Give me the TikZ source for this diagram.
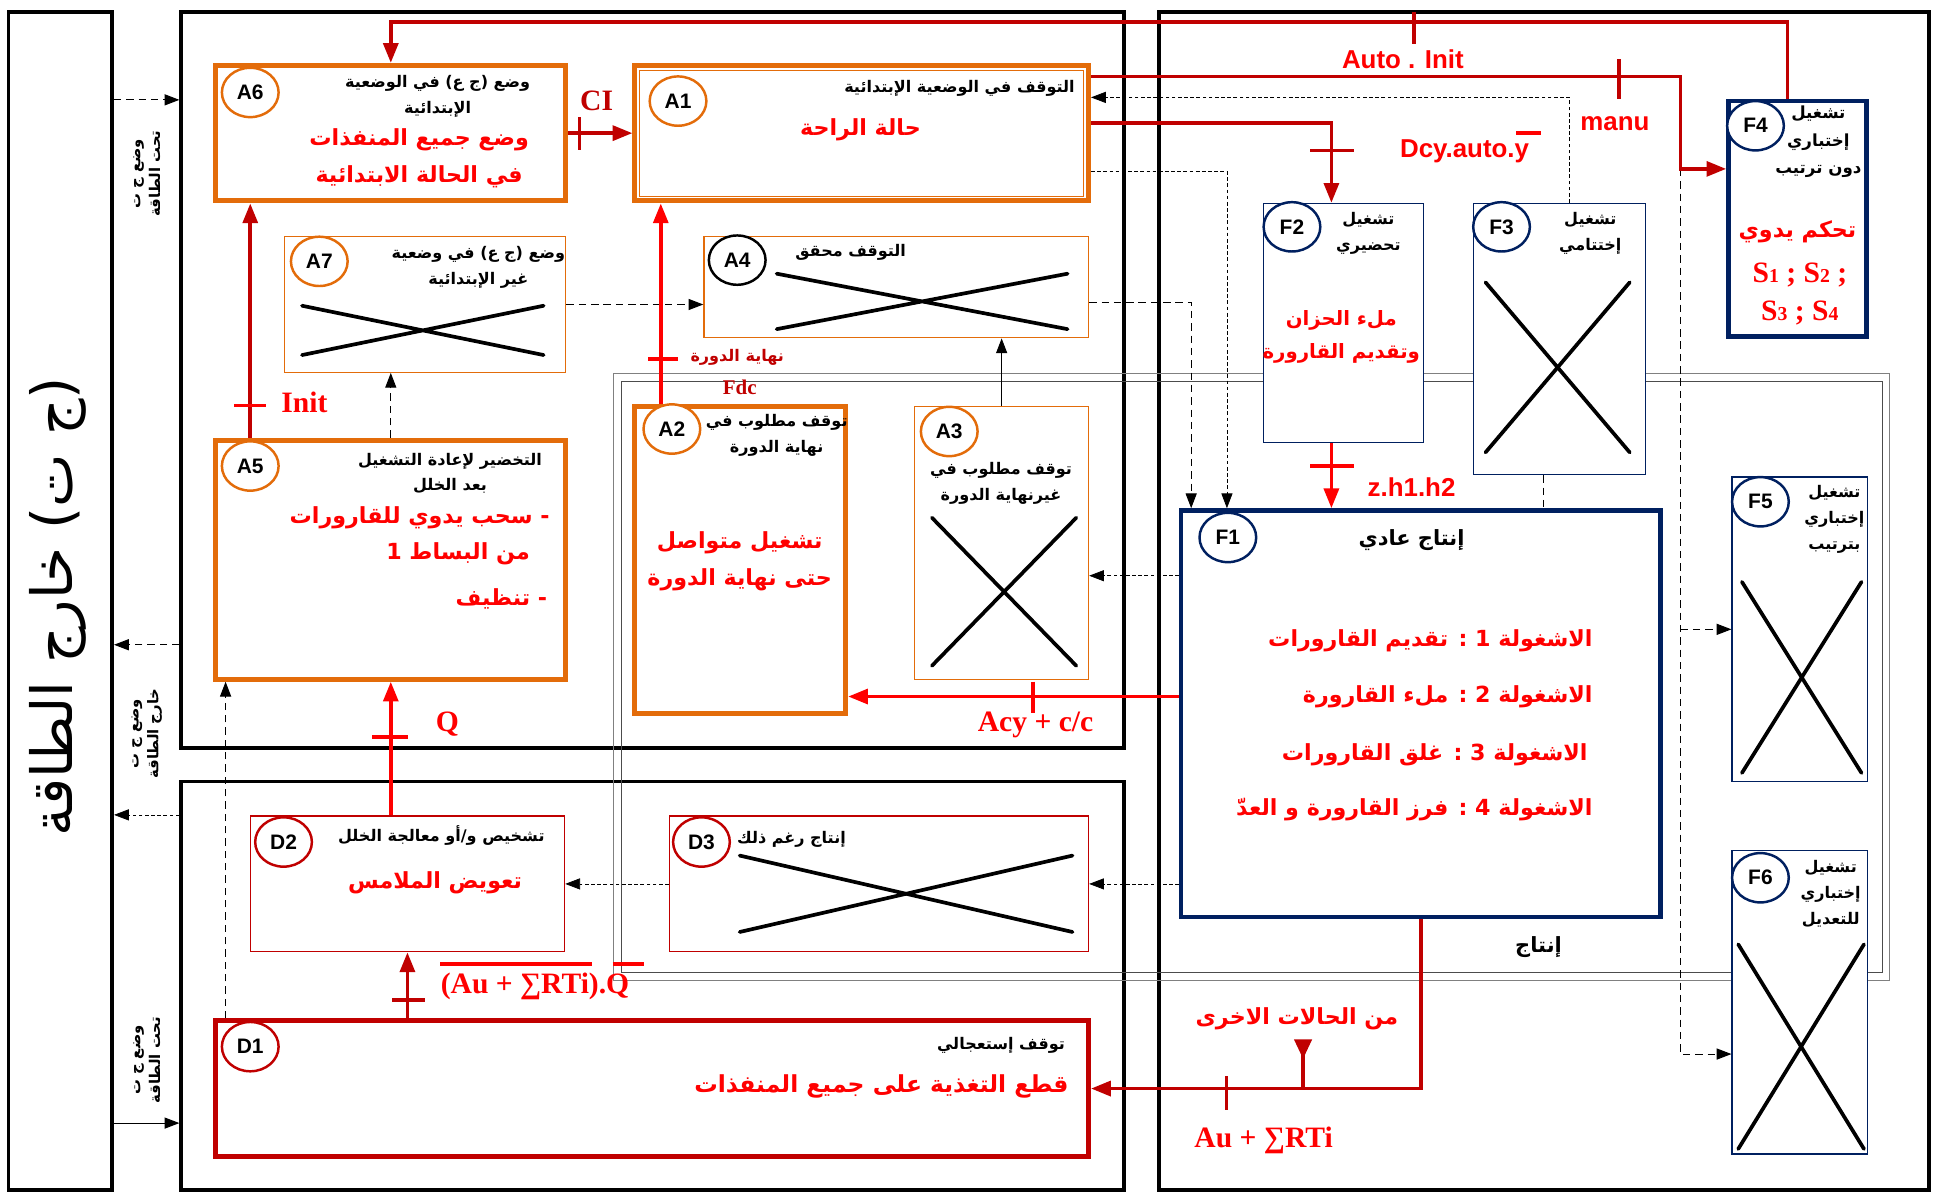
\documentclass[tikz,border=0pt]{standalone}
\usepackage{fontspec}
\setmainfont{Liberation Serif}
\setsansfont{Liberation Sans}
\newfontfamily\arabicfont[Script=Arabic]{DejaVu Sans}
\TeXXeTstate=1
\usetikzlibrary{arrows.meta,calc,positioning,shapes.geometric}
\definecolor{aorange}{HTML}{E36C0A}
\definecolor{navy}{HTML}{002060}
\definecolor{dred}{HTML}{C00000}
\definecolor{bred}{HTML}{FF0000}
\newcommand{\AR}[1]{{\arabicfont\beginR #1\endR}}

\begin{document}
\begin{tikzpicture}[x=1pt,y=-1pt,>={Triangle[length=16pt,width=12pt]},
  gframe/.style={draw,line width=3pt,inner sep=0pt},
  abox/.style={draw=aorange,line width=1pt,fill=white,inner sep=0pt},
  aboxk/.style={abox,line width=4pt},
  fbox/.style={draw=navy,line width=1pt,fill=white,inner sep=0pt},
  fboxk/.style={fbox,line width=3.5pt},
  dbox/.style={draw=dred,line width=1pt,fill=white,inner sep=0pt},
  dboxk/.style={dbox,line width=4pt},
  tagc/.style={ellipse,draw,line width=2pt,minimum width=46pt,minimum height=40pt,inner sep=0pt,fill=white,font=\fontsize{17}{17}\sffamily\bfseries},
  atag/.style={tagc,draw=aorange},
  ftag/.style={tagc,draw=navy},
  dtag/.style={tagc,draw=dred},
  ttl/.style={font=\fontsize{13}{21}\selectfont\bfseries,align=center,inner sep=0pt},
  vttl/.style={ttl,rotate=90,font=\fontsize{12}{16}\selectfont\bfseries},
  big/.style={text=bred,font=\fontsize{18}{30}\selectfont\bfseries,align=center,inner sep=0pt},
  xmark/.style={line width=3pt,line cap=round},
  rline/.style={draw=dred,line width=3pt},
  bline/.style={draw=bred,line width=3pt},
  kdash/.style={dash pattern=on 6pt off 4pt,line width=0.8pt,-{Triangle[length=12pt,width=9pt]}},
  kdot/.style={dash pattern=on 3pt off 2pt,line width=0.6pt,-{Triangle[length=12pt,width=9pt]}},
  lbl/.style={font=\fontsize{21}{21}\sffamily\bfseries,text=bred,inner sep=0pt},
  slbl/.style={font=\fontsize{24}{24}\selectfont\bfseries,text=bred,inner sep=0pt}]
\useasboundingbox (0,0) rectangle (1568,967);

% frames
\node[gframe,minimum width=84pt,minimum height=955pt] (FL) at (49,487.5) {};
\node[gframe,minimum width=765pt,minimum height=597pt] (FA) at (529.5,308.5) {};
\node[gframe,minimum width=765pt,minimum height=331pt] (FD) at (529.5,799.5) {};
\node[gframe,minimum width=625pt,minimum height=955pt] (FF) at (1252.5,487.5) {};
\draw[gray,line width=0.8pt] (498,303) rectangle (1533,795);
\draw[black!70,line width=0.6pt] (504,309) rectangle (1527,789);

% boxes
\node[aboxk,minimum width=284pt,minimum height=110pt] (A6) at (317,108) {};
\node[aboxk,minimum width=368pt,minimum height=110pt] (A1) at (699,108) {};
\draw[aorange,line width=0.8pt] ([shift={(6,6)}]A1.north west) rectangle ([shift={(-6,-6)}]A1.south east);
\node[abox,minimum width=228pt,minimum height=110pt] (A7) at (345,247) {};
\node[abox,minimum width=312pt,minimum height=82pt] (A4) at (727,233) {};
\node[aboxk,minimum width=284pt,minimum height=194pt] (A5) at (317,454) {};
\node[aboxk,minimum width=171pt,minimum height=249pt] (A2) at (600.5,454.5) {};
\node[abox,minimum width=141pt,minimum height=221pt] (A3) at (812.5,440.5) {};
\node[fbox,minimum width=130pt,minimum height=194pt] (F2) at (1090,262) {};
\node[fbox,minimum width=140pt,minimum height=220pt] (F3) at (1265,275) {};
\node[fboxk,minimum width=112pt,minimum height=191pt] (F4) at (1458,177.5) {};
\node[fboxk,minimum width=389pt,minimum height=330pt] (F1) at (1152.5,579) {};
\node[fbox,minimum width=110pt,minimum height=247pt] (F5) at (1460,510.5) {};
\node[fbox,minimum width=110pt,minimum height=246pt] (F6) at (1460,813) {};
\node[dbox,minimum width=255pt,minimum height=110pt] (D2) at (330.5,717) {};
\node[dbox,minimum width=340pt,minimum height=110pt] (D3) at (713,717) {};
\node[dboxk,minimum width=708pt,minimum height=110pt] (D1) at (529,883) {};

% crossed out states
\draw[xmark] (245,248) -- (441,288) (245,288) -- (441,248);
\draw[xmark] (630,222) -- (866,267) (630,267) -- (866,222);
\draw[xmark] (756,420) -- (873,540) (756,540) -- (873,420);
\draw[xmark] (1205,229) -- (1322,367) (1205,367) -- (1322,229);
\draw[xmark] (1413,472) -- (1510,627) (1413,627) -- (1510,472);
\draw[xmark] (1410,766) -- (1512,932) (1410,932) -- (1512,766);
\draw[xmark] (600,694) -- (870,756) (600,756) -- (870,694);

% black links
\draw[line width=0.8pt,-{Triangle[length=12pt,width=9pt]}] (A3.north) -- (A3.north |- A4.south);
\draw[kdash] (A5.north) -- (A5.north |- A7.south);
\draw[kdash] (A7.east) -- (A7.east -| A4.west);
\coordinate (a4o) at ($(A4.east)+(0,12)$);
\draw[kdash] (a4o) -| ($(F1.north west)+(10,0)$);
\draw[kdot] ($(A1.south east)+(0,-26)$) -| ($(F1.north west)+(39,0)$);
\draw[kdot] ($(F3.north)+(8,0)$) |- ($(A1.north east)+(0,28)$);
\coordinate (a3i) at ($(F1.west)+(0,-112)$);
\draw[kdot] (a3i) -- (a3i -| A3.east);
\draw[kdot] (F1.west |- D3.east) -- (D3.east);
\draw[kdot] (D3.west) -- (D2.east);
\coordinate (f3o) at ($(F3.south)+(-13,0)$);
\draw[kdash,-] (f3o) -- (f3o |- F1.north);
\coordinate (mk) at ($(F4.west)+(-37,-40.5)$);
\coordinate (f6i) at ($(F6.west)+(0,42)$);
\draw[kdash] (mk) |- (f6i);
\draw[kdash] (mk |- F5.west) -- (F5.west);
\coordinate (dq) at ($(D1.north west)+(10,0)$);
\draw[kdash] (dq) -- (dq |- A5.south);
\draw[kdash] (FL.east |- 0,81) -- (FA.west |- 0,81);
\draw[kdash] (FA.west |- 0,523) -- (FL.east |- 0,523);
\draw[kdot] (FD.west |- 0,661) -- (FL.east |- 0,661);
\draw[line width=0.8pt,-{Triangle[length=12pt,width=9pt]}] (FL.east |- 0,911) -- (FD.west |- 0,911);

% red links
\draw[rline,->] ($(F4.north)+(-8,0)$) |- ($(A6.north)+(0,-33)$) -- (A6.north);
\draw[rline,->] ($(A1.north east)+(0,11)$) -| (mk) -- (mk -| F4.west);
\draw[rline,->] ($(A1.north east)+(0,49)$) -| ($(F2.north)+(-10,0)$);
\draw[rline,->] (A6.east) -- (A6.east -| A1.west);
\draw[rline,->] (A5.north west -| 203,0) -- (A6.south west -| 203,0);
\coordinate (fd) at ($(A2.north west)+(23,0)$);
\draw[bline,->] (fd) -- (fd |- A1.south);
\coordinate (zt) at ($(F2.south)+(-10,0)$);
\draw[bline,->] (zt) -- (zt |- F1.north);
\coordinate (ac) at ($(F1.west)+(0,-14)$);
\draw[bline,->] (ac) -- (ac -| A2.east);
\draw[bline,->] (A5.south |- D2.north) -- (A5.south);
\draw[rline,->] (D2.south |- D1.north) -- (D2.south);
\draw[rline,->] (F1.south) |- (D1.east);
\coordinate (oth) at (1057,843);
\draw[rline,{Triangle[reversed,length=16pt,width=14pt]}-] (oth) -- (oth |- D1.east);

% ticks
\draw[rline] (1147,10) -- (1147,36);
\draw[rline] (1313,48) -- (1313,80);
\draw[rline] (1063,122) -- (1098,122);
\draw[rline] (470,95) -- (470,122);
\draw[bline] (190,329) -- (216,329);
\draw[bline] (526,291) -- (550,291);
\draw[bline] (1063,378) -- (1098,378);
\draw[bline] (838,553) -- (838,578);
\draw[bline] (302,598) -- (331,598);
\draw[rline] (318,811) -- (345,811);
\draw[rline] (995,873) -- (995,900);

% state tags
\node[atag] (A6c) at (203,75) {A6};
\node[atag] (A1c) at (550,82) {A1};
\node[atag] (A7c) at (259,212) {A7};
\node[tagc] (A4c) at (598,211) {A4};
\node[atag] (A5c) at (203,378) {A5};
\node[atag] (A2c) at (545,348) {A2};
\node[atag] (A3c) at (770,350) {A3};
\node[ftag] (F2c) at (1048,184) {F2};
\node[ftag] (F3c) at (1218,184) {F3};
\node[ftag] (F4c) at (1424,102) {F4};
\node[ftag] (F1c) at (996,436) {F1};
\node[ftag] (F5c) at (1428,407) {F5};
\node[ftag] (F6c) at (1428,712) {F6};
\node[dtag] (D2c) at (230,683) {D2};
\node[dtag] (D3c) at (569,683) {D3};
\node[dtag] (D1c) at (203,849) {D1};

% state texts
\node[rotate=90,font=\fontsize{46}{46}\selectfont] (FLt) at (47,492) {\AR{(ج ت) خارج الطاقة}};
\node[vttl] (v1) at (119,141) {\AR{وضع ج ت}\\\AR{تحت الطاقة}};
\node[vttl] (v2) at (119,595) {\AR{وضع ج ت}\\\AR{خارج الطاقة}};
\node[vttl] (v3) at (119,860) {\AR{وضع ج ت}\\\AR{تحت الطاقة}};

\node[ttl] (A6t) at (355,78) {\AR{وضع (ج ع) في الوضعية}\\\AR{الإبتدائية}};
\node[big] (A6r) at (340,128) {\AR{وضع جميع المنفذات}\\\AR{في الحالة الابتدائية}};
\node[ttl,anchor=east] (A1t) at (872,72) {\AR{التوقف في الوضعية الإبتدائية}};
\node[big] (A1r) at (698,105) {\AR{حالة الراحة}};
\node[ttl] (A7t) at (388,217) {\AR{وضع (ج ع) في وضعية}\\\AR{غير الإبتدائية}};
\node[ttl] (A4t) at (690,205) {\AR{التوقف محقق}};
\node[ttl] (A5t) at (365,384) {\AR{التخضير لإعادة التشغيل}\\\AR{بعد الخلل}};
\node[big,anchor=east] (A5r1) at (446,420) {\AR{- سحب يدوي للقارورات}};
\node[big,anchor=east] (A5r2) at (430,449) {\AR{من البساط 1}};
\node[big,anchor=east] (A5r3) at (444,486) {\AR{- تنظيف}};
\node[ttl] (A2t) at (630,353) {\AR{توقف مطلوب في}\\\AR{نهاية الدورة}};
\node[big] (A2r) at (600,455) {\AR{تشغيل متواصل}\\\AR{حتى نهاية الدورة}};
\node[ttl] (A3t) at (812,392) {\AR{توقف مطلوب في}\\\AR{غيرنهاية الدورة}};

\node[ttl] (F2t) at (1110,189) {\AR{تشغيل}\\\AR{تحضيري}};
\node[big,font=\fontsize{16}{27}\selectfont\bfseries] (F2r) at (1088,273) {\AR{ملء الحزان}\\\AR{وتقديم القارورة}};
\node[ttl] (F3t) at (1290,189) {\AR{تشغيل}\\\AR{إختتامي}};
\node[ttl,font=\fontsize{13.5}{22}\selectfont\bfseries] (F4t) at (1475,115) {\AR{تشغيل}\\\AR{إختباري}\\\AR{دون ترتيب}};
\node[big] (F4r) at (1458,188) {\AR{تحكم يدوي}};
\node[slbl] (F4s1) at (1460,223) {S{\fontsize{16}{16}\selectfont 1} ; S{\fontsize{16}{16}\selectfont 2} ;};
\node[slbl] (F4s2) at (1460,254) {S{\fontsize{16}{16}\selectfont 3} ; S{\fontsize{16}{16}\selectfont 4}};
\node[ttl,font=\fontsize{17}{17}\selectfont\bfseries] (F1t) at (1145,438) {\AR{إنتاج عادي}};
\node[big,anchor=east] (F1r1) at (1292,520) {\AR{الاشغولة 1 : تقديم القارورات}};
\node[big,anchor=east] (F1r2) at (1292,565) {\AR{الاشغولة 2 : ملء القارورة}};
\node[big,anchor=east] (F1r3) at (1288,612) {\AR{الاشغولة 3 : غلق القارورات}};
\node[big,anchor=east] (F1r4) at (1292,657) {\AR{الاشغولة 4 : فرز القارورة و العدّ}};
\node[ttl,font=\fontsize{13}{21}\selectfont\bfseries] (F5t) at (1488,421) {\AR{تشغيل}\\\AR{إختباري}\\\AR{بترتيب}};
\node[ttl,font=\fontsize{13}{21}\selectfont\bfseries] (F6t) at (1485,725) {\AR{تشغيل}\\\AR{إختباري}\\\AR{للتعديل}};
\node[ttl,font=\fontsize{17}{17}\selectfont\bfseries] (prod) at (1248,768) {\AR{إنتاج}};

\node[ttl] (D2t) at (358,678) {\AR{تشخيص و/أو معالجة الخلل}};
\node[big] (D2r) at (353,716) {\AR{تعويض الملامس}};
\node[ttl] (D3t) at (642,681) {\AR{إنتاج رغم ذلك}};
\node[ttl,anchor=east] (D1t) at (864,848) {\AR{توقف إستعجالي}};
\node[big,font=\fontsize{19}{19}\selectfont\bfseries] (D1r) at (715,881) {\AR{قطع التغذية على جميع المنفذات}};

% link labels
\node[lbl] (lAI) at (1138,48) {Auto . Init};
\node[lbl] (lma) at (1310,100) {manu};
\node[lbl] (ldcy) at (1188,123) {Dcy.auto.y};
\draw[bred,line width=3pt] (1230,108) -- (1250,108);
\node[lbl] (lz) at (1145,395) {z.h1.h2};
\node[slbl] (lacy) at (840,588) {Acy + c/c};
\node[slbl,text=dred] (lci) at (484,82) {CI};
\node[slbl] (linit) at (247,326) {Init};
\node[slbl] (lq) at (363,587) {Q};
\node[ttl,text=dred,font=\fontsize{13}{13}\selectfont\bfseries] (lfin) at (598,290) {\AR{نهاية الدورة}};
\node[slbl,text=dred,font=\fontsize{17}{17}\selectfont\bfseries] (lfdc) at (600,314) {Fdc};
\node[slbl] (lauq) at (434,800) {(Au + ∑RTi).Q};
\draw[bred,line width=3pt] (357,782) -- (480,782) (497,782) -- (522,782);
\node[slbl] (lau) at (1025,925) {Au + ∑RTi};
\node[big] (loth) at (1052,826) {\AR{من الحالات الاخرى}};
\end{tikzpicture}
\end{document}
